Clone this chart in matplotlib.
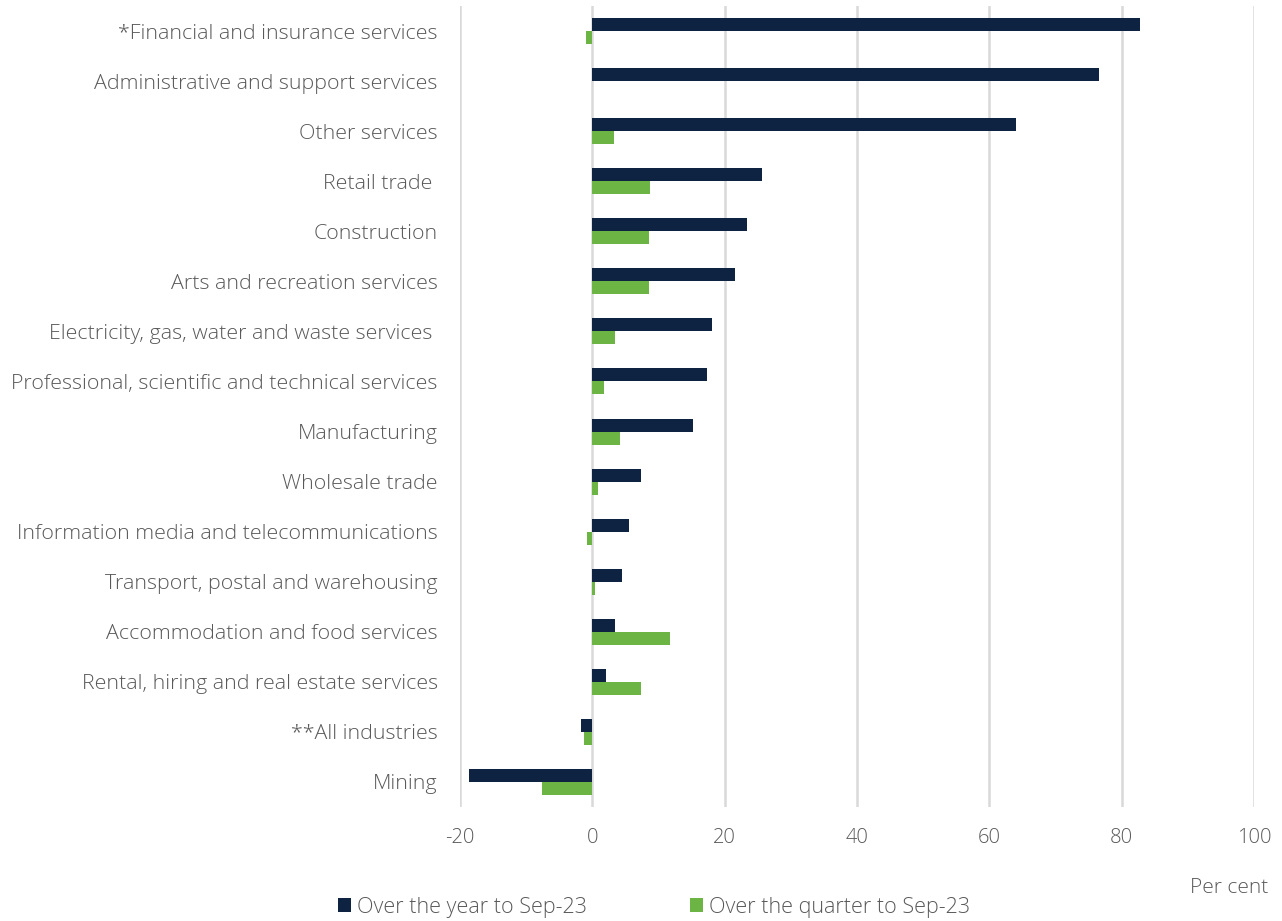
import matplotlib
matplotlib.use("Agg")
import matplotlib.pyplot as plt
from matplotlib.patches import Patch
import numpy as np

categories = [
    "*Financial and insurance services",
    "Administrative and support services",
    "Other services",
    "Retail trade ",
    "Construction",
    "Arts and recreation services",
    "Electricity, gas, water and waste services ",
    "Professional, scientific and technical services",
    "Manufacturing",
    "Wholesale trade",
    "Information media and telecommunications",
    "Transport, postal and warehousing",
    "Accommodation and food services",
    "Rental, hiring and real estate services",
    "**All industries",
    "Mining",
]
year_vals = [82.8, 76.6, 64.0, 25.7, 23.4, 21.6, 18.1, 17.4, 15.2, 7.3, 5.5, 4.5, 3.5, 2.1, -1.7, -18.6]
quarter_vals = [-0.9, 0.0, 3.2, 8.7, 8.5, 8.6, 3.5, 1.8, 4.2, 0.8, -0.8, 0.4, 11.7, 7.4, -1.3, -7.6]
series_names = ["Over the year to Sep-23", "Over the quarter to Sep-23"]
xticks = [-20, 0, 20, 40, 60, 80, 100]

dark = "#0e2341"
green = "#6cb544"
txt = "#595959"
fam = ["Open Sans", "DejaVu Sans"]

fig = plt.figure(figsize=(12.82, 9.21), dpi=100)
ax = fig.add_axes([460/1282, 1-807/921, (1254-460)/1282, 801/921])

n = len(categories)
y = np.arange(n)
h = 0.26
ax.barh(y - h/2, year_vals, height=h, color=dark, zorder=3)
ax.barh(y + h/2, quarter_vals, height=h, color=green, zorder=3)

ax.set_ylim(n - 0.5, -0.5)
ax.set_xlim(-20, 100)
ax.set_xticks(xticks)
ax.set_xticklabels([str(t) for t in xticks], fontsize=14.5, color=txt, family=fam, fontweight="light")
ax.set_yticks(y)
ax.set_yticklabels(categories, fontsize=15.4, color=txt, family=fam, fontweight="light")
ax.tick_params(axis="both", length=0)
ax.tick_params(axis="y", pad=16)
ax.tick_params(axis="x", pad=15)
for s in ax.spines.values():
    s.set_visible(False)
ax.grid(axis="x", color="#d9d9d9", linewidth=1.8, zorder=0)
ax.set_axisbelow(True)

fig.text(1268/1282, 1-888/921, "Per cent", ha="right", va="center", fontsize=15,
         color=txt, family=fam, fontweight="light")

handles = [Patch(facecolor=dark), Patch(facecolor=green)]
leg = fig.legend(handles, series_names, loc="center left", bbox_to_anchor=(338/1282, 1-907/921),
                 ncol=2, frameon=False, handlelength=0.6, handleheight=0.6, handletextpad=0.3,
                 columnspacing=4.75, borderpad=0, borderaxespad=0,
                 prop={"family": fam, "size": 15.5, "weight": "light"})
for t in leg.get_texts():
    t.set_color(txt)

fig.savefig("out.png", dpi=100)
